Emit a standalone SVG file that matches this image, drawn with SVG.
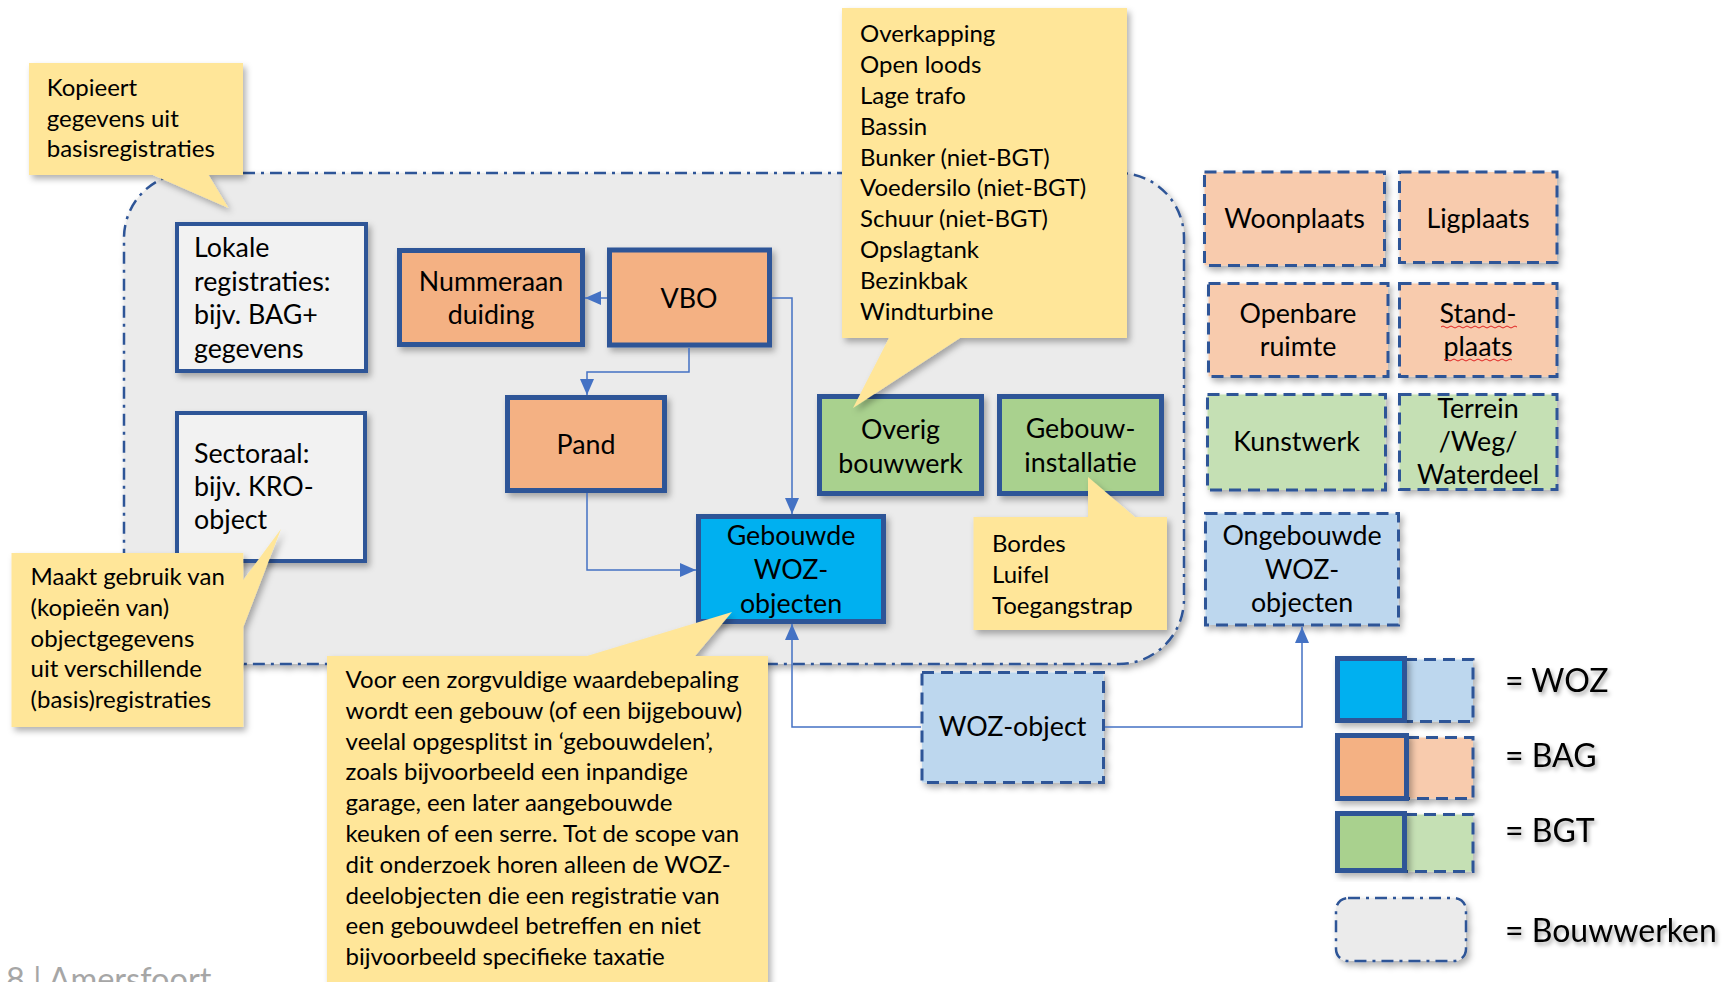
<svg xmlns="http://www.w3.org/2000/svg" width="1726" height="982" viewBox="0 0 1726 982">
<defs>
<style>
text{font-family:Lato,"Liberation Sans",sans-serif;fill:#000}
.nt{font-size:26.8px;text-anchor:middle}
.lt{font-size:26.8px}
.ct{font-size:24px}
.bag{fill:#f4b183;stroke:#2f5597;stroke-width:5}
.bgt{fill:#a9d18e;stroke:#2f5597;stroke-width:5}
.woz{fill:#00b0f0;stroke:#2f5597;stroke-width:5}
.loc{fill:#f2f2f2;stroke:#2f5597;stroke-width:4}
.bagd{fill:#f8cbad;stroke:#2f5597;stroke-width:3;stroke-dasharray:12 7}
.bgtd{fill:#c5e0b4;stroke:#2f5597;stroke-width:3;stroke-dasharray:12 7}
.wozd{fill:#bdd7ee;stroke:#2f5597;stroke-width:3;stroke-dasharray:12 7}
.bw{fill:#ebebeb;stroke:#2f5597;stroke-width:2.5;stroke-dasharray:12 6 3 6}
.call{fill:#ffe699}
.con{fill:none;stroke:#4472c4;stroke-width:1.5}
.lg{font-size:32px}
.sq{fill:none;stroke:#e02020;stroke-width:1}
</style>
<filter id="sh" x="-10%" y="-10%" width="130%" height="130%"><feDropShadow dx="3" dy="4" stdDeviation="3" flood-color="#000" flood-opacity="0.3"/></filter>
<filter id="tsh" x="-10%" y="-20%" width="130%" height="160%"><feDropShadow dx="2" dy="3" stdDeviation="2" flood-color="#000" flood-opacity="0.35"/></filter>
<marker id="ar" markerUnits="userSpaceOnUse" markerWidth="16" markerHeight="14" refX="16" refY="7" orient="auto"><path d="M0,0 L16,7 L0,14 Z" fill="#4472c4"/></marker>
</defs>
<rect width="1726" height="982" fill="#fff"/>

<g id="bouwwerken">
<rect class="bw" x="124" y="173" width="1060" height="491" rx="65" ry="65" filter="url(#sh)"/>
</g>

<g id="lokale">
<rect class="loc" x="177" y="224" width="189" height="147" filter="url(#sh)"/>
<text class="lt" x="194" y="257">Lokale</text>
<text class="lt" x="194" y="291">registraties:</text>
<text class="lt" x="194" y="324">bijv. BAG+</text>
<text class="lt" x="194" y="358">gegevens</text>
</g>
<g id="sectoraal">
<rect class="loc" x="177" y="413" width="188" height="148" filter="url(#sh)"/>
<text class="lt" x="194" y="463">Sectoraal:</text>
<text class="lt" x="194" y="496">bijv. KRO-</text>
<text class="lt" x="194" y="529">object</text>
</g>
<g id="nummeraanduiding">
<rect class="bag" x="399.5" y="250.5" width="183" height="94" filter="url(#sh)"/>
<text class="nt" x="491" y="291">Nummeraan</text>
<text class="nt" x="491" y="324">duiding</text>
</g>
<g id="vbo">
<rect class="bag" x="609.5" y="250" width="160" height="95" filter="url(#sh)"/>
<text class="nt" x="689" y="308">VBO</text>
</g>
<g id="pand">
<rect class="bag" x="507.5" y="397.5" width="157" height="93" filter="url(#sh)"/>
<text class="nt" x="586" y="454">Pand</text>
</g>
<g id="overig">
<rect class="bgt" x="819.5" y="396.5" width="162" height="97" filter="url(#sh)"/>
<text class="nt" x="900.5" y="439">Overig</text>
<text class="nt" x="900.5" y="473">bouwwerk</text>
</g>
<g id="gebouwinstallatie">
<rect class="bgt" x="999.5" y="396.5" width="162" height="97" filter="url(#sh)"/>
<text class="nt" x="1080.5" y="438">Gebouw-</text>
<text class="nt" x="1080.5" y="472">installatie</text>
</g>
<g id="gebouwde">
<rect class="woz" x="698.5" y="516.5" width="185" height="105" filter="url(#sh)"/>
<text class="nt" x="791" y="545">Gebouwde</text>
<text class="nt" x="791" y="579">WOZ-</text>
<text class="nt" x="791" y="613">objecten</text>
</g>
<g id="wozobject">
<rect class="wozd" x="922" y="672.5" width="181.5" height="110" filter="url(#sh)"/>
<text class="nt" x="1012.5" y="736">WOZ-object</text>
</g>

<g id="woonplaats">
<rect class="bagd" x="1204.5" y="172" width="180" height="93.5" filter="url(#sh)"/>
<text class="nt" x="1294.5" y="228">Woonplaats</text>
</g>
<g id="ligplaats">
<rect class="bagd" x="1399.5" y="172" width="157.5" height="90.5" filter="url(#sh)"/>
<text class="nt" x="1478" y="228">Ligplaats</text>
</g>
<g id="openbareruimte">
<rect class="bagd" x="1208.5" y="283.5" width="179.5" height="93" filter="url(#sh)"/>
<text class="nt" x="1298" y="323">Openbare</text>
<text class="nt" x="1298" y="356">ruimte</text>
</g>
<g id="standplaats">
<rect class="bagd" x="1399.5" y="283.5" width="157.5" height="93" filter="url(#sh)"/>
<text class="nt" x="1478" y="323">Stand-</text>
<text class="nt" x="1478" y="356">plaats</text>
<path class="sq" d="M1441,327 q2,-2 4,0 t4,0 t4,0 t4,0 t4,0 t4,0 t4,0 t4,0 t4,0 t4,0 t4,0 t4,0 t4,0 t4,0 t4,0 t4,0 t4,0 t4,0 t4,0"/>
<path class="sq" d="M1444,360 q2,-2 4,0 t4,0 t4,0 t4,0 t4,0 t4,0 t4,0 t4,0 t4,0 t4,0 t4,0 t4,0 t4,0 t4,0 t4,0 t4,0 t4,0"/>
</g>
<g id="kunstwerk">
<rect class="bgtd" x="1207.5" y="394.5" width="178" height="95.5" filter="url(#sh)"/>
<text class="nt" x="1296.5" y="451">Kunstwerk</text>
</g>
<g id="terrein">
<rect class="bgtd" x="1399.5" y="394.5" width="157.5" height="95" filter="url(#sh)"/>
<text class="nt" x="1478" y="418">Terrein</text>
<text class="nt" x="1478" y="451">/Weg/</text>
<text class="nt" x="1478" y="484">Waterdeel</text>
</g>
<g id="ongebouwde">
<rect class="wozd" x="1205.5" y="513.5" width="193" height="111.5" filter="url(#sh)"/>
<text class="nt" x="1302" y="545">Ongebouwde</text>
<text class="nt" x="1302" y="579">WOZ-</text>
<text class="nt" x="1302" y="612">objecten</text>
</g>

<g id="connectors">
<path class="con" d="M607,298 H585" marker-end="url(#ar)"/>
<path class="con" d="M689,348 V372 H587 V395" marker-end="url(#ar)"/>
<path class="con" d="M772,298 H792 V514" marker-end="url(#ar)"/>
<path class="con" d="M587,493 V570 H696" marker-end="url(#ar)"/>
<path class="con" d="M921,727 H792 V624" marker-end="url(#ar)"/>
<path class="con" d="M1105,727 H1302 V627" marker-end="url(#ar)"/>
</g>

<g id="callout-kopieert">
<path class="call" d="M29,63 H243 V175 H208.6 L228.5,208 L153,175 H29 Z" filter="url(#sh)"/>
<text class="ct" x="46.7" y="96">Kopieert</text>
<text class="ct" x="46.7" y="127">gegevens uit</text>
<text class="ct" x="46.7" y="157">basisregistraties</text>
</g>
<g id="callout-overkapping">
<path class="call" d="M842,8 H1127 V338 H960 L853,408 L889,338 H842 Z" filter="url(#sh)"/>
<text class="ct" x="860" y="42.3">Overkapping</text>
<text class="ct" x="860" y="73.1">Open loods</text>
<text class="ct" x="860" y="103.9">Lage trafo</text>
<text class="ct" x="860" y="134.7">Bassin</text>
<text class="ct" x="860" y="165.5">Bunker (niet-BGT)</text>
<text class="ct" x="860" y="196.3">Voedersilo (niet-BGT)</text>
<text class="ct" x="860" y="227.1">Schuur (niet-BGT)</text>
<text class="ct" x="860" y="257.9">Opslagtank</text>
<text class="ct" x="860" y="288.7">Bezinkbak</text>
<text class="ct" x="860" y="319.5">Windturbine</text>
</g>
<g id="callout-maakt">
<path class="call" d="M11.5,553 H243.3 V580 L281,529 L243.3,627 V727 H11.5 Z" filter="url(#sh)"/>
<text class="ct" x="30.6" y="585">Maakt gebruik van</text>
<text class="ct" x="30.6" y="616">(kopieën van)</text>
<text class="ct" x="30.6" y="646.5">objectgegevens</text>
<text class="ct" x="30.6" y="677">uit verschillende</text>
<text class="ct" x="30.6" y="708">(basis)registraties</text>
</g>
<g id="callout-bordes">
<path class="call" d="M973.5,517 H1088 V477 L1135,517 H1167 V630 H973.5 Z" filter="url(#sh)"/>
<text class="ct" x="992" y="552">Bordes</text>
<text class="ct" x="992" y="583">Luifel</text>
<text class="ct" x="992" y="613.5">Toegangstrap</text>
</g>
<g id="callout-voor">
<path class="call" d="M327,656 H587 L732,612 L695,656 H768 V995 H327 Z" filter="url(#sh)"/>
<text class="ct" x="345.6" y="688">Voor een zorgvuldige waardebepaling</text>
<text class="ct" x="345.6" y="718.8">wordt een gebouw (of een bijgebouw)</text>
<text class="ct" x="345.6" y="749.6">veelal opgesplitst in ‘gebouwdelen’,</text>
<text class="ct" x="345.6" y="780.4">zoals bijvoorbeeld een inpandige</text>
<text class="ct" x="345.6" y="811.2">garage, een later aangebouwde</text>
<text class="ct" x="345.6" y="842">keuken of een serre. Tot de scope van</text>
<text class="ct" x="345.6" y="872.8">dit onderzoek horen alleen de WOZ-</text>
<text class="ct" x="345.6" y="903.6">deelobjecten die een registratie van</text>
<text class="ct" x="345.6" y="934.4">een gebouwdeel betreffen en niet</text>
<text class="ct" x="345.6" y="965.2">bijvoorbeeld specifieke taxatie</text>
</g>

<g id="legend">
<rect class="wozd" x="1405" y="659.5" width="68" height="62" filter="url(#sh)"/>
<rect class="woz" x="1337.5" y="658.5" width="67" height="62" filter="url(#sh)"/>
<rect class="bagd" x="1407" y="737.5" width="66" height="61" filter="url(#sh)"/>
<rect class="bag" x="1337.5" y="735.5" width="69" height="63" filter="url(#sh)"/>
<rect class="bgtd" x="1405" y="814.5" width="68" height="57" filter="url(#sh)"/>
<rect class="bgt" x="1337.5" y="813.5" width="67" height="57" filter="url(#sh)"/>
<rect class="bw" x="1336" y="898" width="130" height="63" rx="12" ry="12" filter="url(#sh)"/>
<text class="lg" x="1505" y="692" filter="url(#tsh)">= WOZ</text>
<text class="lg" x="1505" y="767" filter="url(#tsh)">= BAG</text>
<text class="lg" x="1505" y="842" filter="url(#tsh)">= BGT</text>
<text class="lg" x="1505" y="942" filter="url(#tsh)">= Bouwwerken</text>
</g>

<g id="footer">
<text x="6" y="991" style="font-size:32.5px;fill:#a6a6a6">8 | Amersfoort</text>
</g>
</svg>
